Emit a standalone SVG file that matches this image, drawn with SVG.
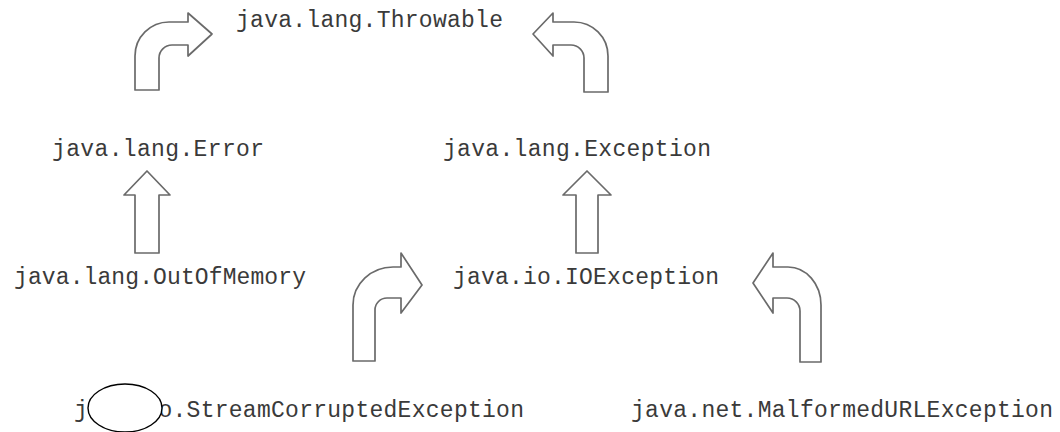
<svg xmlns="http://www.w3.org/2000/svg" width="1060" height="432" viewBox="0 0 1060 432">
<style>
.t{font-family:"Liberation Mono","Courier New",monospace;font-size:23px;fill:#3a3a3a}
.a{fill:#fff;stroke:#6a6a6a;stroke-width:1.7;stroke-linejoin:round}
</style>
<rect width="1060" height="432" fill="#fff"/>
<g id="connectors">
<path class="a" d="M135,90 L135,56 A34,34 0 0 1 169,22 L188,22 L188,13 L212,34 L188,56 L188,45 L172,45 A13,13 0 0 0 159,58 L159,90 Z"/>
<path class="a" d="M608,92 L608,56 A34,34 0 0 0 574,22 L553,22 L553,13 L533,34 L553,56 L553,45 L571,45 A13,13 0 0 1 584,58 L584,92 Z"/>
<path class="a" d="M135,253 L135,195 L124,195 L147,171 L170,195 L159,195 L159,253 Z"/>
<path class="a" d="M576,253 L576,195 L563,195 L587,171 L611,195 L598,195 L598,253 Z"/>
<path class="a" d="M353,361 L353,305 A40,38 0 0 1 393,267 L401,267 L401,253 L422,285 L401,313 L401,298 L387,298 A12,12 0 0 0 375,310 L375,361 Z"/>
<path class="a" d="M821,362 L821,305 A33,38 0 0 0 788,267 L773,267 L773,253 L753,283 L773,313 L773,298 L787,298 A13,13 0 0 1 800,311 L800,362 Z"/>
</g>
<g id="throwable"><text class="t" x="236" y="27" textLength="267">java.lang.Throwable</text></g>
<g id="error"><text class="t" x="52" y="156" textLength="212">java.lang.Error</text></g>
<g id="exception"><text class="t" x="443" y="156" textLength="268">java.lang.Exception</text></g>
<g id="outofmemory"><text class="t" x="14" y="284" textLength="292">java.lang.OutOfMemory</text></g>
<g id="ioexception"><text class="t" x="453" y="284" textLength="266">java.io.IOException</text></g>
<g id="streamcorrupted"><text class="t" x="74" y="417" textLength="450">java.io.StreamCorruptedException</text>
<ellipse cx="125" cy="408" rx="37" ry="24" fill="#fff" stroke="#000" stroke-width="1.4"/></g>
<g id="malformedurl"><text class="t" x="631" y="417" textLength="422">java.net.MalformedURLException</text></g>
</svg>
